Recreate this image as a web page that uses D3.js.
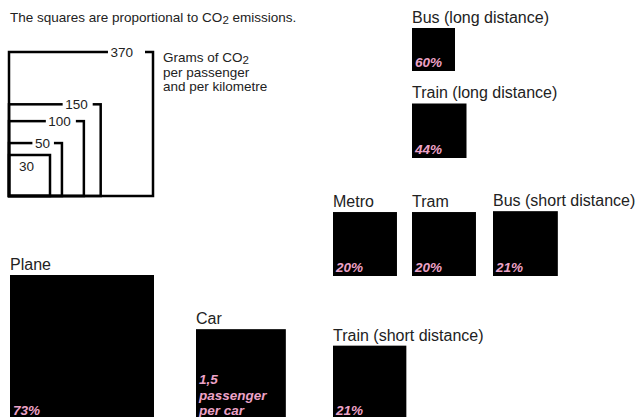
<!DOCTYPE html>
<html>
<head>
<meta charset="utf-8">
<script src="https://cdn.jsdelivr.net/npm/d3@7/dist/d3.min.js"></script>
<style>
  html, body { margin: 0; padding: 0; background: #fff; }
  svg { display: block; font-family: "Liberation Sans", Arial, sans-serif; }
</style>
</head>
<body>
<svg id="chart" width="637" height="417"></svg>
<script>
// ---- data ----
const categories = ["Plane", "Car", "Train (short distance)", "Metro", "Tram",
                    "Bus (short distance)", "Bus (long distance)", "Train (long distance)"];
const emissions = [370, 144, 96, 73, 73, 75, 33, 53];
const shareLabels = ["73%", "1,5\npassenger\nper car", "21%", "20%", "20%", "21%", "60%", "44%"];
const legendValues = [370, 150, 100, 50, 30];
const legendTitle = [["Grams of CO", "2"], ["per passenger", ""], ["and per kilometre", ""]];
const titleParts = ["The squares are proportional to CO", "2", " emissions."];

// ---- layout (anchor = left edge, bottom edge of each square) ----
const anchors = [
  [10, 419], [196, 419], [333, 419],
  [333, 276], [412, 276], [493, 276],
  [412, 71], [412, 158]
];
const legendAnchor = [9, 196];
const labelGaps = [20, 13, 13, 12, 0];

const svg = d3.select("#chart");
const size = d3.scaleSqrt().domain([0, 370]).range([0, 144]);

// title
const tt = svg.append("text")
  .attr("x", 10).attr("y", 22)
  .attr("font-size", 13.5).attr("fill", "#222");
tt.append("tspan").text(titleParts[0]);
tt.append("tspan").attr("font-size", 11.5).attr("dy", 2).text(titleParts[1]);
tt.append("tspan").attr("dy", -2).text(titleParts[2]);

// ---- legend ----
const lg = svg.append("g");
legendValues.forEach((v, i) => {
  const s = size(v);
  const x0 = legendAnchor[0], y0 = legendAnchor[1] - s;
  lg.append("rect")
    .attr("x", x0).attr("y", y0).attr("width", s).attr("height", s)
    .attr("fill", "none").attr("stroke", "#000").attr("stroke-width", 2.5);
});
legendValues.forEach((v, i) => {
  const s = size(v);
  const x0 = legendAnchor[0], y0 = legendAnchor[1] - s;
  if (i === legendValues.length - 1) {
    lg.append("text")
      .attr("x", x0 + 10).attr("y", y0 + 16)
      .attr("font-size", 13.5).attr("fill", "#222")
      .text(v);
  } else {
    const t = lg.append("text")
      .attr("x", x0 + s - labelGaps[i]).attr("y", y0 + 5)
      .attr("text-anchor", "end")
      .attr("font-size", 13.5).attr("fill", "#222")
      .text(v);
    const w = t.node().getComputedTextLength();
    lg.insert("rect", "text")
      .attr("x", x0 + s - labelGaps[i] - w - 2.5)
      .attr("y", y0 - 3)
      .attr("width", w + labelGaps[i] - 5.5)
      .attr("height", 6)
      .attr("fill", "#fff");
  }
});
lg.selectAll("text").raise();

const lt = svg.append("text").attr("font-size", 13.5).attr("fill", "#222");
legendTitle.forEach((line, i) => {
  lt.append("tspan").attr("x", 163).attr("y", 62 + i * 14.5).text(line[0]);
  if (line[1]) {
    lt.append("tspan").attr("font-size", 11.5).attr("dy", 2).text(line[1]);
  }
});

// ---- squares ----
const items = categories.map((c, i) => ({
  name: c, value: emissions[i], label: shareLabels[i],
  x: anchors[i][0], bottom: anchors[i][1]
}));

const g = svg.append("g").selectAll("g").data(items).join("g");

g.append("rect")
  .attr("x", d => d.x)
  .attr("y", d => d.bottom - size(d.value))
  .attr("width", d => size(d.value))
  .attr("height", d => size(d.value))
  .attr("fill", "#000");

g.append("text")
  .attr("x", d => d.x)
  .attr("y", d => d.bottom - size(d.value) - 5)
  .attr("font-size", 16).attr("fill", "#222")
  .text(d => d.name);

g.each(function(d) {
  const lines = d.label.split("\n");
  const t = d3.select(this).append("text")
    .attr("font-size", 13.5).attr("font-weight", "bold").attr("font-style", "italic")
    .attr("fill", "#eda3c7");
  lines.forEach((ln, j) => {
    t.append("tspan")
      .attr("x", d.x + 3)
      .attr("y", d.bottom - 4 - (lines.length - 1 - j) * 15.5)
      .text(ln);
  });
});
</script>
</body>
</html>
